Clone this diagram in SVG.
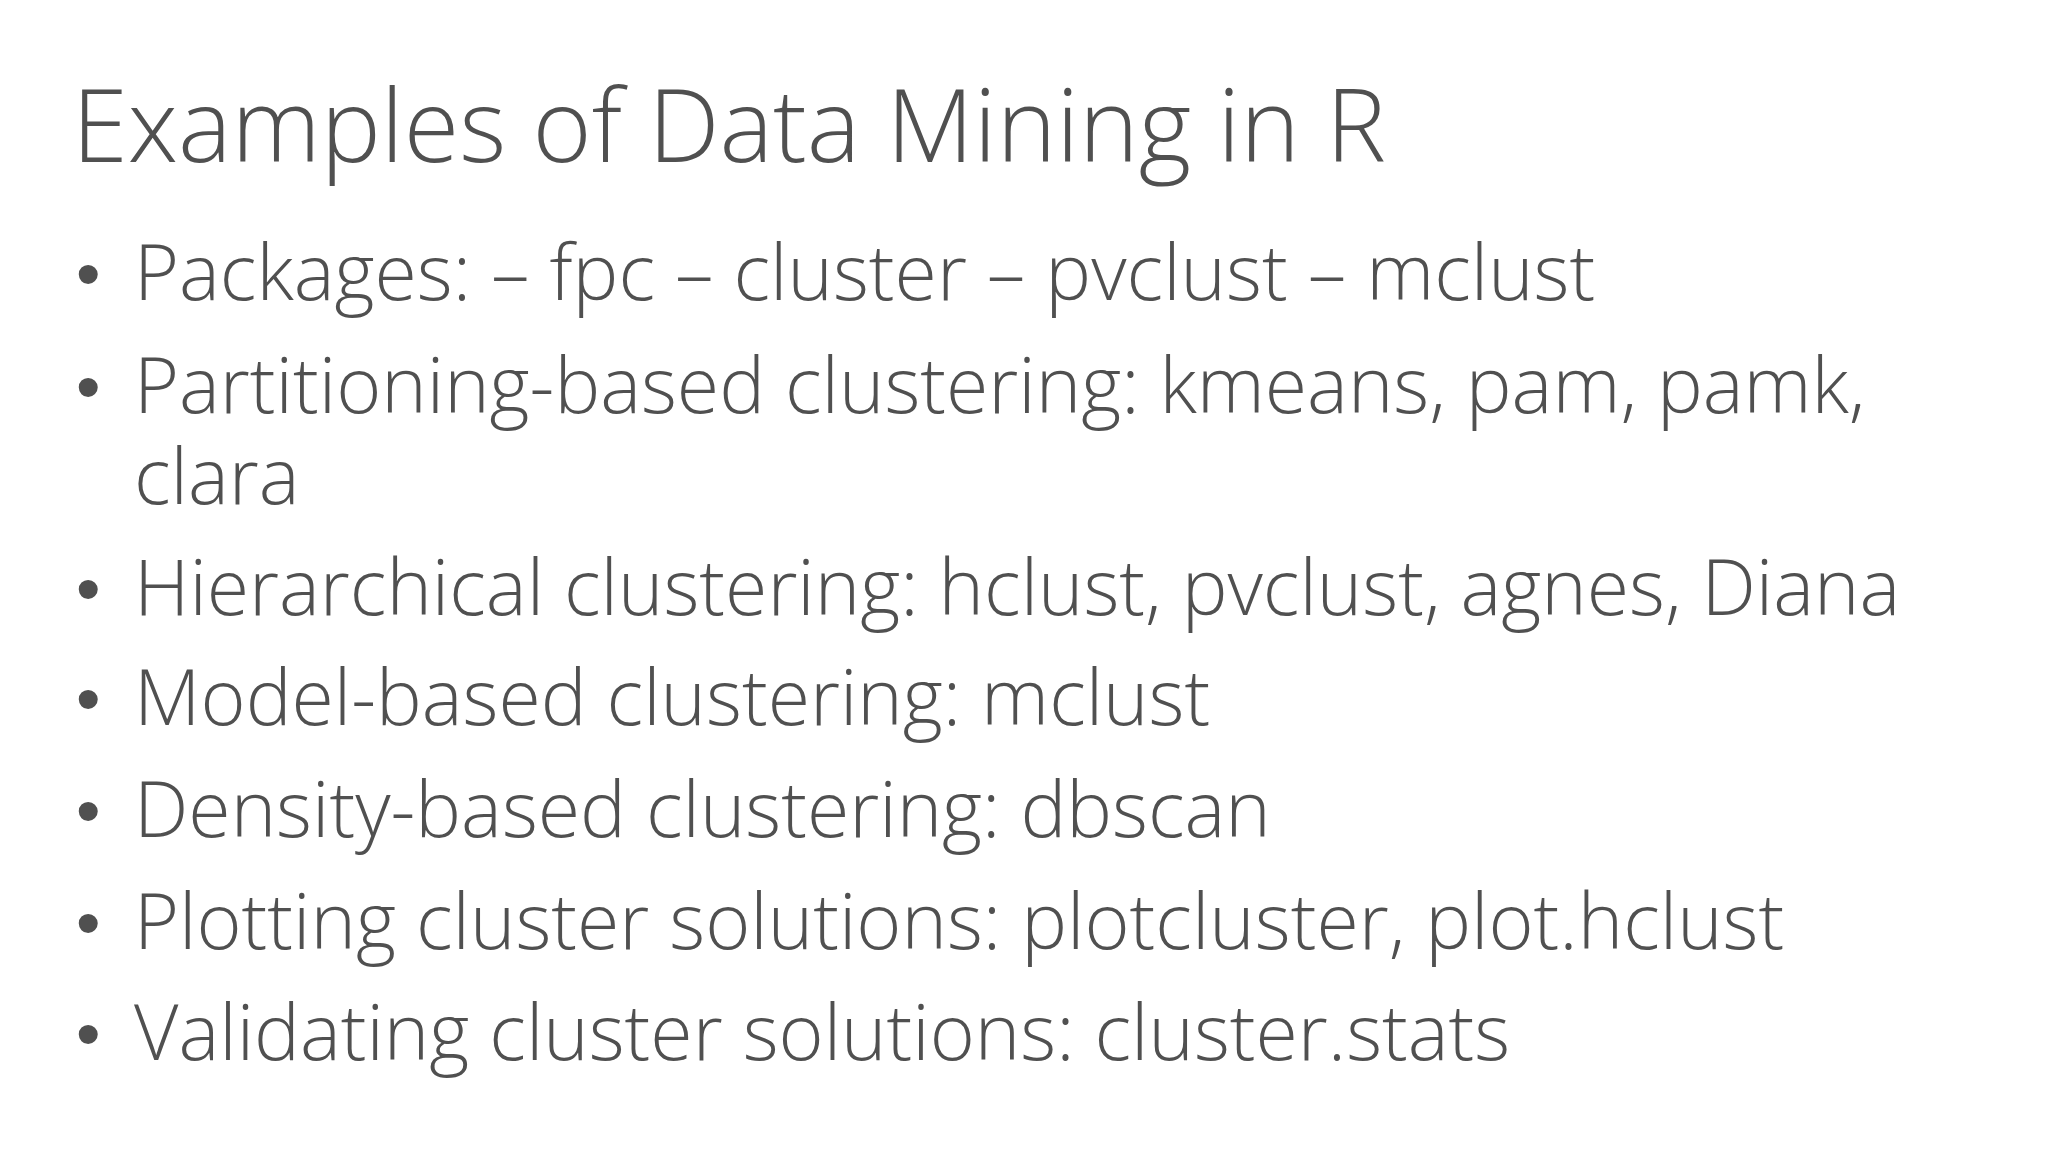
<svg xmlns="http://www.w3.org/2000/svg" width="2048" height="1152" viewBox="0 0 2048 1152">
<style>
text{font-family:"Open Sans","Noto Sans","Liberation Sans",sans-serif;font-weight:300;fill:#505050}
.t{font-size:101px}
.b{font-size:77px}
.d{font-size:70px;font-family:"Liberation Sans",sans-serif;font-weight:400}
</style>
<rect width="2048" height="1152" fill="#ffffff"/>
<text class="t" x="72" y="162">Examples of Data Mining in R</text>
<g id="bullets">
<text class="d" x="76" y="298">•</text><text class="b" x="134" y="300">Packages: – fpc – cluster – pvclust – mclust</text>
<text class="d" x="76" y="411">•</text><text class="b" x="134" y="413">Partitioning-based clustering: kmeans, pam, pamk,</text>
<text class="b" x="134" y="504">clara</text>
<text class="d" x="76" y="613">•</text><text class="b" x="134" y="615">Hierarchical clustering: hclust, pvclust, agnes, Diana</text>
<text class="d" x="76" y="723">•</text><text class="b" x="134" y="725">Model-based clustering: mclust</text>
<text class="d" x="76" y="835">•</text><text class="b" x="134" y="837">Density-based clustering: dbscan</text>
<text class="d" x="76" y="947">•</text><text class="b" x="134" y="949">Plotting cluster solutions: plotcluster, plot.hclust</text>
<text class="d" x="76" y="1058">•</text><text class="b" x="134" y="1060">Validating cluster solutions: cluster.stats</text>
</g>
</svg>
